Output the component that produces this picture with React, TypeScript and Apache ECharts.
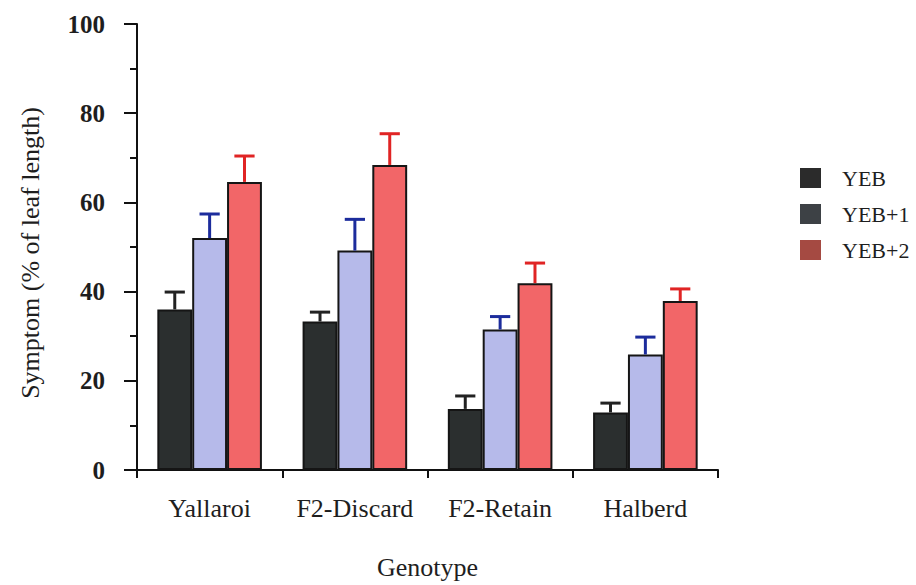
import React, { useEffect, useRef } from "react";
import * as echarts from "echarts";

// Genotypes on the x axis
const genotypes = ["Yallaroi", "F2-Discard", "F2-Retain", "Halberd"];
const seriesNames = ["YEB", "YEB+1", "YEB+2"];

// Mean symptom (% of leaf length) and standard error per genotype
const yeb = [36.0, 33.3, 13.7, 12.9];
const yebErr = [3.9, 2.1, 2.9, 2.1];
const yeb1 = [52.0, 49.2, 31.5, 25.9];
const yeb1Err = [5.4, 7.0, 2.9, 3.9];
const yeb2 = [64.6, 68.4, 41.9, 37.9];
const yeb2Err = [5.8, 7.0, 4.5, 2.7];

const yTicks = [0, 20, 40, 60, 80, 100];

const means = [yeb, yeb1, yeb2];
const errs = [yebErr, yeb1Err, yeb2Err];

const barColors = ["#2b2f2f", "#b6baea", "#f26668"];
const errColors = ["#222222", "#1c2c9c", "#e02424"];
const legendColors = ["#2b2b2b", "#3d4145", "#a54a42"];

const BAR_FRAC = 0.24;
const FONT = "'Liberation Serif', 'Times New Roman', serif";

export default function App() {
  const ref = useRef<HTMLDivElement>(null);

  useEffect(() => {
    document.body.style.margin = "0";
    if (!ref.current) return;
    const chart = echarts.init(ref.current, undefined, { renderer: "svg" });

    const barSeries = seriesNames.map((name, k) => ({
      name,
      type: "bar",
      data: means[k],
      barWidth: `${BAR_FRAC * 100}%`,
      barGap: "0%",
      itemStyle: { color: barColors[k], borderColor: "#151515", borderWidth: 2 },
      z: 2,
    }));

    // Upper standard-error whiskers, placed over each bar of the group
    const errSeries = seriesNames.map((name, k) => ({
      name: `${name} SE`,
      type: "custom",
      z: 3,
      encode: { x: 0, y: [1, 2] },
      data: genotypes.map((_, i) => [i, means[k][i], means[k][i] + errs[k][i]]),
      renderItem: (_params: any, api: any) => {
        const ci = api.value(0);
        const base = api.coord([ci, api.value(1)]);
        const top = api.coord([ci, api.value(2)]);
        const band = api.size([1, 0])[0];
        const bw = band * BAR_FRAC;
        const x = base[0] + (k - 1) * bw;
        const cap = bw * 0.29;
        const style = { stroke: errColors[k], lineWidth: 3 };
        return {
          type: "group",
          children: [
            { type: "line", shape: { x1: x, y1: base[1], x2: x, y2: top[1] }, style },
            { type: "line", shape: { x1: x - cap, y1: top[1], x2: x + cap, y2: top[1] }, style },
          ],
        };
      },
    }));

    chart.setOption({
      animation: false,
      backgroundColor: "#ffffff",
      textStyle: { fontFamily: FONT },
      grid: { left: 137, right: 198, top: 24, bottom: 113, containLabel: false },
      legend: {
        orient: "vertical",
        left: 795,
        top: 162,
        itemWidth: 21,
        itemHeight: 20,
        itemGap: 14,
        selectedMode: false,
        textStyle: { fontFamily: FONT, fontSize: 22, color: "#1e1e1e", padding: [0, 0, 0, 16] },
        data: seriesNames.map((name, k) => ({
          name,
          icon: "rect",
          itemStyle: { color: legendColors[k], borderWidth: 0 },
        })),
      },
      xAxis: {
        type: "category",
        data: genotypes,
        name: "Genotype",
        nameLocation: "middle",
        nameGap: 84,
        nameTextStyle: { fontFamily: FONT, fontSize: 26, color: "#1e1e1e" },
        axisLine: { lineStyle: { color: "#111", width: 2 } },
        axisTick: { show: true, length: 8, lineStyle: { color: "#111", width: 2 } },
        axisLabel: { interval: 0, fontFamily: FONT, fontSize: 26, color: "#1e1e1e", margin: 25 },
      },
      yAxis: {
        type: "value",
        min: yTicks[0],
        max: yTicks[yTicks.length - 1],
        interval: 20,
        name: "Symptom (% of leaf length)",
        nameLocation: "middle",
        nameRotate: 90,
        nameGap: 94,
        nameTextStyle: { fontFamily: FONT, fontSize: 26, color: "#1e1e1e", padding: [0, 12, 0, 0] },
        axisLine: { show: true, lineStyle: { color: "#111", width: 2 } },
        axisTick: { show: true, length: 13, lineStyle: { color: "#111", width: 2 } },
        minorTick: { show: true, splitNumber: 2, length: 7, lineStyle: { color: "#111", width: 2 } },
        splitLine: { show: false },
        axisLabel: {
          fontFamily: FONT,
          fontSize: 25,
          fontWeight: "bold",
          color: "#1e1e1e",
          margin: 32,
        },
      },
      series: [...barSeries, ...errSeries],
    });

    return () => chart.dispose();
  }, []);

  return (
    <div
      ref={ref}
      style={{ position: "fixed", left: 0, top: 0, width: 916, height: 585, background: "#fff" }}
    />
  );
}
